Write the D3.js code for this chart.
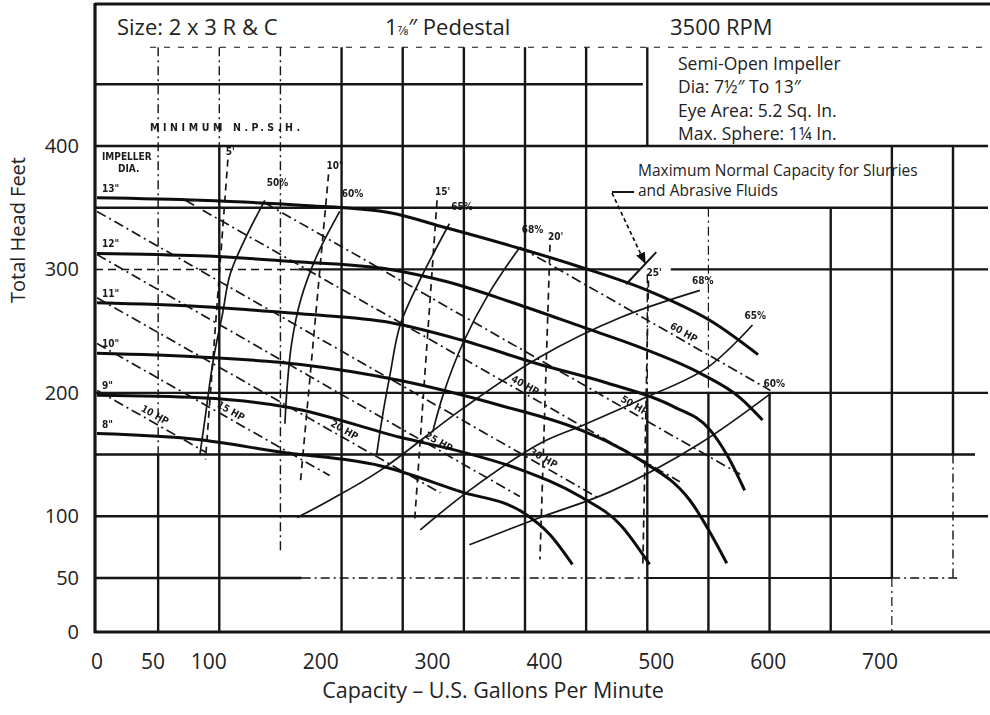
<!DOCTYPE html>
<html>
<head>
<meta charset="utf-8">
<script src="https://cdn.jsdelivr.net/npm/d3@7"></script>
<style>
  body { margin: 0; background: #fff; }
  svg { display: block; }
</style>
</head>
<body>
<div id="chart"></div>
<script>
// =================================== DATA ===================================

const xTicks = [0, 50, 100, 200, 300, 400, 500, 600, 700]
const yTicks = [0, 50, 100, 200, 300, 400]

const diameters = ['13"', '12"', '11"', '10"', '9"', '8"']

// head / capacity curves, one pair of arrays per impeller diameter
const q13 = [0, 92, 182, 262, 307, 378, 432, 492, 551, 591]
const h13 = [358, 356, 352, 346, 335, 317, 302, 283, 257, 231]
const q12 = [0, 92, 182, 262, 313, 372, 435, 485, 539, 575, 595]
const h12 = [313, 311, 306, 300, 290, 273, 253, 237, 216, 196, 178]
const q11 = [0, 92, 182, 262, 325, 396, 456, 515, 548, 563, 579]
const h11 = [273, 270, 264, 257, 243, 223, 208, 189, 170, 150, 121]
const q10 = [0, 92, 182, 271, 360, 432, 485, 530, 563]
const h10 = [232, 229, 223, 210, 190, 170, 146, 113, 62]
const q9 = [0, 92, 173, 271, 327, 378, 432, 468, 494]
const h9 = [198, 196, 188, 164, 152, 138, 116, 93, 61]
const q8 = [0, 92, 164, 253, 325, 381, 405, 425]
const h8 = [167, 162, 152, 141, 120, 103, 85, 61]

// efficiency lines, left side of best efficiency
const effLeftLabels = ['50%', '60%', '65%', '68%']
const qE50 = [150, 132, 119, 112, 104, 97, 92]
const hE50 = [356, 324, 296, 263, 227, 182, 150]
const qE60 = [217, 196, 182, 174, 170, 168]
const hE60 = [347, 310, 275, 240, 205, 175]
const qE65 = [315, 289, 271, 262, 255, 250]
const hE65 = [337, 292, 255, 215, 180, 150]
const qE68 = [378, 350, 327, 310, 300]
const hE68 = [318, 280, 240, 200, 168]
// efficiency lines, right side of best efficiency
const effRightLabels = ['68%', '65%', '60%']
const qR68 = [539, 468, 396, 325, 253, 208, 179]
const hR68 = [283, 261, 229, 186, 137, 113, 99]
const qR65 = [586, 545, 485, 435, 396, 333, 289]
const hR65 = [255, 220, 194, 174, 159, 121, 89]
const qR60 = [603, 539, 459, 396, 333]
const hR60 = [200, 159, 120, 99, 77]

// minimum NPSH lines
const npshLabels = ["5'", "10'", "15'", "20'", "25'"]
const npshQTop = [117, 207, 304, 405, 493]
const npshHTop = [389, 377, 356, 320, 291]
const npshQBot = [97, 182, 284, 396, 488]
const npshHBot = [146, 129, 97, 65, 61]

// horsepower lines (start / end)
const hpLabels = ['10 HP', '15 HP', '20 HP', '25 HP', '30 HP', '40 HP', '50 HP', '60 HP']
const hpQ0 = [0, 0, 0, 0, 0, 79, 150, 378]
const hpH0 = [202, 240, 277, 312, 347, 356, 354, 318]
const hpQ1 = [97, 208, 307, 378, 450, 521, 575, 602]
const hpH1 = [152, 133, 119, 116, 114, 128, 134, 202]

// =================================== SCALES ===================================

const width = 990
const height = 715

const x = d3.scaleLinear().domain([0, 700]).range([97, 880])
const y = d3.scaleLinear().domain([0, 50, 400]).range([632, 578, 146])
// the scanned sheet has its own grid: 14 columns
const gx = d3.scaleLinear().domain([0, 14]).range([97, 953])

const svg = d3.select('#chart').append('svg')
  .attr('width', width)
  .attr('height', height)

const defs = svg.append('defs')
defs.append('filter').attr('id', 'scan')
  .append('feGaussianBlur').attr('stdDeviation', 0.4)
defs.append('marker')
  .attr('id', 'arrow').attr('viewBox', '0 0 10 10')
  .attr('refX', 9).attr('refY', 5)
  .attr('markerWidth', 7).attr('markerHeight', 7)
  .attr('orient', 'auto')
  .append('path').attr('d', 'M0,1 L10,5 L0,9 Z').attr('fill', '#111')

const scan = svg.append('g').attr('filter', 'url(#scan)')

// =================================== GRID ===================================

function seg (x1, y1, x2, y2, w, dash) {
  scan.append('line')
    .attr('x1', x1).attr('y1', y1).attr('x2', x2).attr('y2', y2)
    .attr('stroke', '#141414')
    .attr('stroke-width', w)
    .attr('stroke-dasharray', dash || null)
}

const DASH = '9 4 2 4'
// horizontal lines of the sheet
seg(150, y(480), 985, y(480), 1, '6 8')
seg(95, y(450), x(488), y(450), 2.4)
seg(95, y(400), 988, y(400), 2.4)
seg(95, y(350), 988, y(350), 2.4)
seg(95, y(300), x(180), y(300), 1.4, '8 5')
seg(x(180), y(300), x(485), y(300), 2.2)
seg(x(513), y(300), 988, y(300), 2.2)
seg(95, y(200), 988, y(200), 2.4)
seg(95, y(150), 975, y(150), 2.4)
seg(95, y(100), 988, y(100), 2.4)
seg(95, y(50), x(183), y(50), 2.4)
seg(x(183), y(50), x(490), y(50), 1.5, DASH)
seg(x(490), y(50), x(710), y(50), 2.2)
seg(x(710), y(50), 960, y(50), 1.5, DASH)

// vertical lines of the sheet
seg(gx(1), y(480), gx(1), y(150), 1.4, DASH)
seg(gx(1), y(150), gx(1), 632, 2.4)
seg(gx(2), y(480), gx(2), y(400), 1.4, DASH)
seg(gx(2), y(400), gx(2), 632, 2.4)
seg(gx(3), y(480), gx(3), y(70), 1.4, DASH)
for (let i = 4; i <= 8; i++) seg(gx(i), y(480), gx(i), 632, 2.4)
seg(gx(9), y(480), gx(9), y(400), 2.4)
seg(gx(9), y(296), gx(9), y(200), 1.4, DASH)
seg(gx(9), y(200), gx(9), 632, 2.4)
seg(gx(10), y(350), gx(10), y(200), 1.2, DASH)
seg(gx(10), y(200), gx(10), 632, 2.4)
seg(gx(11), y(200), gx(11), 632, 2.4)
seg(gx(12), y(350), gx(12), 632, 2.4)
seg(gx(13), y(400), gx(13), y(50), 2.4)
seg(gx(13), y(50), gx(13), 632, 1.2, DASH)
seg(gx(14), y(400), gx(14), y(150), 2.4)
seg(gx(14), y(150), gx(14), y(50), 1.4, DASH)

// frame
seg(95, 4, 990, 4, 3.2)
seg(95, 3, 95, 633, 3.2)
seg(94, 632, 990, 632, 3.2)

// =================================== CURVES ===================================

const zipped = (qs, hs) => qs.map((q, i) => [q, hs[i]])

const scanLabel = sel => sel
  .style('font-family', '"DejaVu Sans Condensed", sans-serif')
  .style('font-weight', 'bold')
  .style('font-size', '10px')
  .attr('fill', '#1a1a1a')

// horsepower lines, label placed part way along each line
const hpAt = [0.5, 0.56, 0.71, 0.8, 0.88, 0.68, 0.77, 0.64]
hpLabels.forEach(function (lab, i) {
  const x0 = x(hpQ0[i]), y0 = y(hpH0[i])
  const x1 = x(hpQ1[i]), y1 = y(hpH1[i])
  scan.append('line')
    .attr('x1', x0).attr('y1', y0).attr('x2', x1).attr('y2', y1)
    .attr('stroke', '#161616')
    .attr('stroke-width', 1.7).attr('stroke-dasharray', '10 4 2 4')
  const lx = x0 + (x1 - x0) * hpAt[i]
  const ly = y0 + (y1 - y0) * hpAt[i]
  const ang = Math.atan2(y1 - y0, x1 - x0) * 180 / Math.PI
  scan.append('text')
    .attr('transform', 'translate(' + lx + ',' + ly + ') rotate(' + ang + ') translate(0,-4)')
    .attr('text-anchor', 'middle')
    .call(scanLabel)
    .text(lab)
})

// npsh lines
npshLabels.forEach(function (lab, i) {
  scan.append('line')
    .attr('x1', x(npshQTop[i])).attr('y1', y(npshHTop[i]))
    .attr('x2', x(npshQBot[i])).attr('y2', y(npshHBot[i]))
    .attr('stroke', '#161616')
    .attr('stroke-width', 1.7).attr('stroke-dasharray', '7 5')
  scan.append('text')
    .attr('x', x(npshQTop[i]) - 2).attr('y', y(npshHTop[i]) - 5)
    .call(scanLabel)
    .text(lab)
})

// efficiency lines
const effLine = d3.line().x(d => x(d[0])).y(d => y(d[1])).curve(d3.curveCatmullRom)
const effLeft = [[qE50, hE50], [qE60, hE60], [qE65, hE65], [qE68, hE68]]
effLeft.forEach(function (e, i) {
  scan.append('path')
    .attr('d', effLine(zipped(e[0], e[1])))
    .attr('fill', 'none').attr('stroke', '#161616')
    .attr('stroke-width', 1.7)
  scan.append('text')
    .attr('x', x(e[0][0]) + 2).attr('y', y(e[1][0]) - 14)
    .call(scanLabel)
    .text(effLeftLabels[i])
})
const effRight = [[qR68, hR68], [qR65, hR65], [qR60, hR60]]
effRight.forEach(function (e, i) {
  scan.append('path')
    .attr('d', effLine(zipped(e[0], e[1])))
    .attr('fill', 'none').attr('stroke', '#161616')
    .attr('stroke-width', 1.7)
  scan.append('text')
    .attr('x', x(e[0][0]) - 8).attr('y', y(e[1][0]) - 6)
    .call(scanLabel)
    .text(effRightLabels[i])
})

// head curves
const headLine = d3.line().x(d => x(d[0])).y(d => y(d[1])).curve(d3.curveMonotoneX)
const heads = [[q13, h13], [q12, h12], [q11, h11], [q10, h10], [q9, h9], [q8, h8]]
heads.forEach(function (c, i) {
  scan.append('path')
    .attr('d', headLine(zipped(c[0], c[1])))
    .attr('fill', 'none').attr('stroke', '#0c0c0c')
    .attr('stroke-width', 3)
  scan.append('text')
    .attr('x', 102).attr('y', y(c[1][0]) - 6)
    .call(scanLabel)
    .text(diameters[i])
})

scan.append('text').attr('x', 102).attr('y', 160).call(scanLabel).text('IMPELLER')
scan.append('text').attr('x', 118).attr('y', 172).call(scanLabel).text('DIA.')
scan.append('text').attr('x', 150).attr('y', 131).call(scanLabel)
  .style('font-size', '10.5px')
  .attr('letter-spacing', 3.6).text('MINIMUM N.P.S.H.')

// maximum normal capacity arrow
seg(612, 192, 634, 192, 2)
scan.append('path')
  .attr('d', 'M612,193 L' + x(490) + ',' + y(305))
  .attr('stroke', '#111').attr('stroke-width', 1.7)
  .attr('stroke-dasharray', '4 3').attr('marker-end', 'url(#arrow)')
seg(x(473), y(288), x(500), y(314), 2)

// =================================== AXES ===================================

const txt = svg.append('g')
  .style('font-family', '"Open Sans", sans-serif')
  .attr('fill', '#222')

txt.selectAll('.xt').data(xTicks).enter().append('text')
  .attr('x', d => x(d)).attr('y', 669)
  .attr('text-anchor', 'middle')
  .style('font-size', '21px')
  .text(d => d)

txt.selectAll('.yt').data(yTicks).enter().append('text')
  .attr('x', 79).attr('y', d => y(d) + 7)
  .attr('text-anchor', 'end')
  .style('font-size', '20px')
  .text(d => d)

txt.append('text')
  .attr('x', 493).attr('y', 698).attr('text-anchor', 'middle')
  .style('font-size', '21.5px')
  .text('Capacity – U.S. Gallons Per Minute')

txt.append('text')
  .attr('transform', 'translate(25,230) rotate(-90)')
  .attr('text-anchor', 'middle')
  .style('font-size', '20px')
  .text('Total Head Feet')

// =================================== TITLES ===================================

txt.append('text').attr('x', 117).attr('y', 35).style('font-size', '22px').text('Size: 2 x 3 R & C')
const ped = txt.append('text').attr('x', 385).attr('y', 35).style('font-size', '22px')
ped.append('tspan').text('1')
ped.append('tspan').style('font-size', '13px').text('7⁄8')
ped.append('tspan').text('″ Pedestal')
txt.append('text').attr('x', 670).attr('y', 35).style('font-size', '22px').text('3500 RPM')

const info = ['Semi-Open Impeller', 'Dia: 7½″ To 13″', 'Eye Area:  5.2 Sq. In.', 'Max. Sphere: 1¼ In.']
txt.selectAll('.info').data(info).enter().append('text')
  .attr('x', 678).attr('y', (d, i) => 70 + i * 23.3)
  .style('font-size', '17.5px')
  .text(d => d)

txt.append('text').attr('x', 638).attr('y', 176).style('font-size', '15.5px')
  .text('Maximum Normal Capacity for Slurries')
txt.append('text').attr('x', 638).attr('y', 196).style('font-size', '15.5px')
  .text('and Abrasive Fluids')
</script>
</body>
</html>
